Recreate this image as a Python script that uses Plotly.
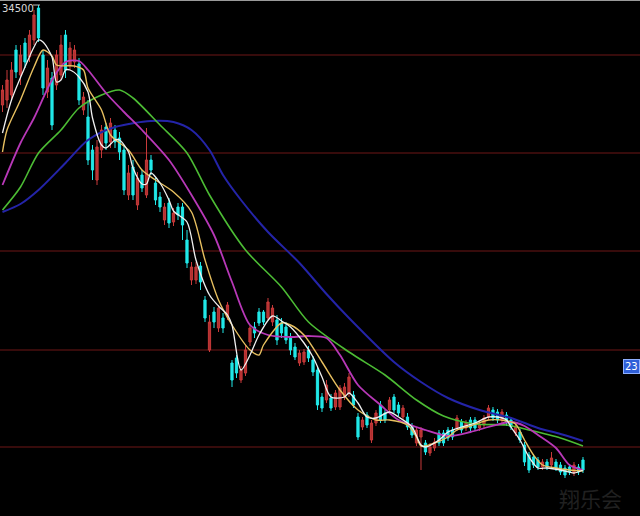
import plotly.graph_objects as go

# ---- candle data (index = trading day) ----
opens = [30500, 30700, 30900, 32700, 31700, 32980, 32420, 33100, 34380, 32500,
         31020, 31580, 31300, 31700, 33300, 32100, 32220, 32140, 30300, 30020,
         28700, 27500, 28700, 29620, 29020, 29500, 29180, 28700, 26900, 28020,
         26500, 27700, 26900, 28300, 27380, 26820, 25900, 26580, 25820, 26420,
         26420, 25100, 23500, 23500, 24060, 22700, 20700, 22220, 21580, 21980,
         22020, 20180, 20380, 19500, 19780, 21020, 21620, 22220, 22220, 21980,
         21820, 21900, 21780, 21620, 21220, 20820, 20180, 20220, 20700, 20300,
         19900, 18820, 18700, 18780, 18420, 18420, 18820, 18980, 18900, 18020,
         17620, 18100, 17100, 17780, 18500, 18180, 18300, 18820, 18500, 18020,
         18020, 17620, 16980, 17220, 16980, 16580, 16780, 17380, 17380, 17500,
         17500, 17580, 17820, 17580, 17900, 17900, 17580, 17700, 18020, 18300,
         18220, 17900, 18100, 17900, 17380, 17420, 16900, 16500, 16420, 16300,
         16020, 16220, 16100, 16220, 16100, 15980, 16020, 15780, 16020, 16300]
highs = [31300, 31900, 32220, 32900, 32900, 33180, 33500, 34300, 34500, 32700,
         32300, 31820, 32700, 33300, 33500, 33020, 32900, 32380, 31020, 30700,
         28900, 29100, 29700, 29780, 29980, 29700, 29420, 28900, 28100, 28300,
         27820, 27900, 29580, 28500, 27580, 27020, 26580, 26780, 26380, 26580,
         26580, 25500, 24220, 24220, 24220, 22860, 22100, 22420, 22500, 22180,
         22620, 20300, 20500, 20060, 20900, 21700, 21820, 22380, 22300, 22780,
         22500, 22100, 21980, 21820, 21380, 20980, 20700, 20740, 20860, 20460,
         20060, 18980, 19500, 18940, 19100, 19300, 19380, 19780, 19060, 18180,
         18020, 18220, 17900, 18300, 18660, 18300, 18820, 18940, 18620, 18500,
         18180, 17780, 17620, 17620, 17100, 16980, 17180, 17500, 17500, 17620,
         17620, 18100, 17940, 17900, 18020, 18020, 17860, 18100, 18500, 18420,
         18340, 18340, 18220, 18020, 17740, 17540, 17020, 16620, 16540, 16420,
         16340, 16340, 16620, 16340, 16220, 16100, 16140, 16220, 16140, 16420]
lows = [30220, 30380, 30700, 31580, 31300, 31980, 32220, 32900, 33020, 30900,
        30780, 29500, 31100, 31500, 31580, 31900, 31980, 30500, 30100, 28100,
        27500, 27300, 28380, 28700, 28780, 28780, 28300, 26900, 26700, 26700,
        26300, 27020, 26780, 27700, 26500, 26220, 25700, 25580, 25660, 25900,
        25100, 23980, 23300, 23340, 23100, 21820, 20620, 21580, 21420, 21380,
        21900, 19220, 19580, 19380, 19660, 20860, 21180, 21660, 21700, 21900,
        21660, 20900, 21180, 20940, 20500, 20300, 20060, 20100, 20220, 19660,
        18300, 18220, 18580, 18260, 18300, 18300, 18700, 18820, 18380, 17100,
        17500, 17580, 16980, 17660, 17780, 17780, 18220, 18180, 18060, 17900,
        17500, 17180, 16860, 15900, 16500, 16460, 16660, 16860, 16860, 17060,
        17100, 17460, 17380, 17460, 17460, 17460, 17460, 17580, 17900, 17860,
        17780, 17780, 17660, 17500, 17260, 16980, 16060, 15780, 15980, 15900,
        15900, 15900, 15980, 15860, 15700, 15580, 15700, 15660, 15700, 15780]
closes = [31100, 31500, 31900, 31820, 32500, 32220, 33300, 34100, 33180, 31180,
          31980, 29700, 32500, 32900, 31900, 32780, 32700, 30700, 30820, 28300,
          27900, 28820, 29500, 28980, 29780, 29020, 28620, 27100, 27780, 26900,
          27580, 27180, 28300, 27900, 26700, 26420, 26420, 25780, 26180, 26100,
          25700, 24180, 24020, 24020, 23420, 21980, 21820, 21820, 22380, 21580,
          22500, 19500, 19780, 19900, 20700, 21580, 21380, 21780, 21820, 22620,
          22380, 21100, 21380, 21100, 20700, 20420, 20580, 20620, 20380, 19820,
          18500, 18380, 19300, 18380, 18980, 19180, 19220, 19620, 18500, 17220,
          17900, 17700, 17780, 18180, 17900, 17900, 18700, 18300, 18180, 18380,
          17620, 17300, 17500, 17500, 16620, 16820, 17020, 16980, 16980, 17180,
          17220, 17980, 17500, 17780, 17580, 17580, 17740, 17980, 18380, 17980,
          17900, 18220, 17780, 17620, 17620, 17100, 16220, 15900, 16100, 16020,
          16220, 16020, 16380, 15980, 15820, 15700, 15820, 16100, 15820, 15900]

# ---- moving-average lines (day index, value) ----
ma5_day = [0, 2, 5, 7, 8, 9, 11, 12, 13, 14, 15, 17, 19, 20, 22, 23, 25, 26, 28, 29,
           31, 32, 33, 35, 37, 38, 41, 43, 46, 48, 50, 51, 53, 55, 57, 60, 62, 64, 67, 69,
           71, 73, 76, 77, 79, 81, 83, 86, 88, 91, 93, 94, 97, 99, 102, 105, 108, 110, 112, 113,
           115, 117, 119, 121, 124, 127, 129]
ma5_val = [29380, 30700, 32020, 32820, 33100, 33020, 32420, 31420, 31500, 31900, 31900, 31620, 31020, 29980,
           28900, 28780, 29100, 29100, 28620, 27980, 27340, 27340, 27780, 27380, 26700, 26260, 25820, 24300,
           22900, 22460, 22100, 21700, 19900, 20500, 21300, 22060, 21860, 21620, 20980, 20420, 19620, 18820,
           18820, 18980, 18580, 18020, 17980, 18220, 18020, 17620, 16900, 16820, 17100, 17420, 17620, 17780,
           18020, 18020, 17900, 17620, 17100, 16420, 15980, 15980, 15900, 15780, 15900]
ma10_day = [0, 1, 4, 7, 9, 11, 12, 16, 18, 19, 22, 24, 28, 31, 34, 38, 42, 45, 48, 51,
            55, 57, 58, 62, 64, 67, 71, 75, 79, 83, 86, 90, 92, 93, 96, 99, 101, 104, 108, 112,
            114, 116, 118, 120, 123, 126, 129]
ma10_val = [28620, 29500, 30700, 32020, 32700, 32460, 32100, 32060, 31900, 31180, 30300, 29300, 28700, 27900,
            27500, 27020, 26220, 24300, 22700, 21700, 20700, 20500, 20900, 21780, 21700, 21300, 20220, 19100,
            18300, 17900, 17900, 17700, 17220, 16860, 16980, 17220, 17500, 17660, 17900, 17860, 17740, 17100,
            16500, 16100, 15980, 15900, 15860]
ma20_day = [0, 4, 7, 11, 14, 17, 19, 23, 27, 31, 37, 42, 47, 51, 55, 59, 64, 68, 72, 75,
            79, 84, 88, 94, 99, 104, 108, 113, 116, 119, 123, 126, 129]
ma20_val = [27300, 28980, 29980, 31500, 32220, 32260, 31900, 30980, 30220, 29500, 28300, 26900, 25300, 23420,
            21700, 21300, 21220, 21260, 21180, 20500, 19300, 18500, 17900, 17500, 17260, 17420, 17620, 17820,
            17660, 17300, 16780, 16100, 15900]
ma60_day = [0, 4, 8, 13, 17, 22, 26, 29, 35, 41, 46, 54, 62, 68, 77, 85, 92, 98, 105, 112,
            117, 124, 129]
ma60_val = [26300, 27220, 28580, 29500, 30380, 30900, 31100, 30780, 29700, 28580, 26900, 24700, 23220, 21820,
            20620, 19700, 18700, 18060, 17740, 17700, 17500, 17180, 16860]
ma120_day = [0, 4, 8, 14, 19, 25, 33, 38, 42, 46, 49, 53, 59, 66, 72, 77, 87, 93, 99, 106,
             113, 119, 124, 129]
ma120_val = [26220, 26540, 27100, 28180, 29100, 29620, 29860, 29820, 29500, 28700, 27700, 26700, 25420, 24180,
             22940, 21980, 20220, 19420, 18780, 18300, 17980, 17580, 17340, 17060]

grid_levels = [32500, 28580, 24660, 20700, 16820]
top_label = "34500"
side_label = "23"
watermark = "翔乐会"

days = list(range(len(closes)))

fig = go.Figure()
fig.add_trace(go.Candlestick(
    x=days, open=opens, high=highs, low=lows, close=closes,
    increasing=dict(line=dict(color="#c83a3a", width=1), fillcolor="#b03030"),
    decreasing=dict(line=dict(color="#20e8e8", width=1), fillcolor="#20e8e8"),
    whiskerwidth=0, hoverinfo="skip", showlegend=False))

lines = [
    (ma120_day, ma120_val, "#2424a8", 2.0),
    (ma60_day, ma60_val, "#4cbc34", 1.6),
    (ma20_day, ma20_val, "#b838b8", 1.8),
    (ma10_day, ma10_val, "#e8c060", 1.4),
    (ma5_day, ma5_val, "#f0f0f0", 1.3),
]
for d, v, c, w in lines:
    fig.add_trace(go.Scatter(x=d, y=v, mode="lines",
                             line=dict(color=c, width=w, shape="spline", smoothing=0.8),
                             hoverinfo="skip", showlegend=False))

shapes = [dict(type="line", xref="paper", yref="y", x0=0, x1=1, y0=g, y1=g, layer="below",
               line=dict(color="#6e1616", width=1)) for g in grid_levels]
shapes.append(dict(type="line", xref="paper", yref="paper", x0=0, x1=1, y0=1, y1=1,
                   line=dict(color="#9a9a9a", width=2)))
# short leader line next to the high-price label
shapes.append(dict(type="line", xref="paper", yref="y", x0=33/640, x1=40/640,
                   y0=max(highs), y1=max(highs), line=dict(color="#bdbdbd", width=1)))

fig.update_layout(
    width=640, height=516,
    margin=dict(l=0, r=0, t=0, b=0, pad=0),
    paper_bgcolor="black", plot_bgcolor="black",
    showlegend=False,
    xaxis=dict(range=[-0.556, 141.67], showgrid=False, zeroline=False, showline=False,
               showticklabels=False, ticks="", rangeslider=dict(visible=False), fixedrange=True),
    yaxis=dict(range=[14060, 34700], showgrid=False, showticklabels=False, ticks="",
               zeroline=False, showline=False, fixedrange=True),
    shapes=shapes,
    annotations=[
        dict(text=top_label, xref="paper", yref="paper", x=0.0, y=1.0, xanchor="left", yanchor="top",
             showarrow=False, font=dict(color="#d8d8d8", size=10, family="DejaVu Sans"), yshift=-1),
        dict(text=side_label, xref="paper", yref="paper", x=1.0, y=1 - 366/516, xanchor="right", yanchor="middle",
             showarrow=False, font=dict(color="white", size=10, family="DejaVu Sans"),
             bgcolor="#2f5fd8", bordercolor="#8fb0ff", borderwidth=1, borderpad=1),
        dict(text=watermark, xref="paper", yref="paper", x=624/640, y=1 - 498/516, xanchor="right", yanchor="middle",
             showarrow=False, font=dict(color="#202020", size=21, family="Noto Sans CJK SC")),
    ],
)

fig.write_html("out.html", config=dict(displayModeBar=False, staticPlot=True),
               post_script="document.body.style.margin='0px';document.body.style.padding='0px';"
                           "document.body.style.background='black';")
